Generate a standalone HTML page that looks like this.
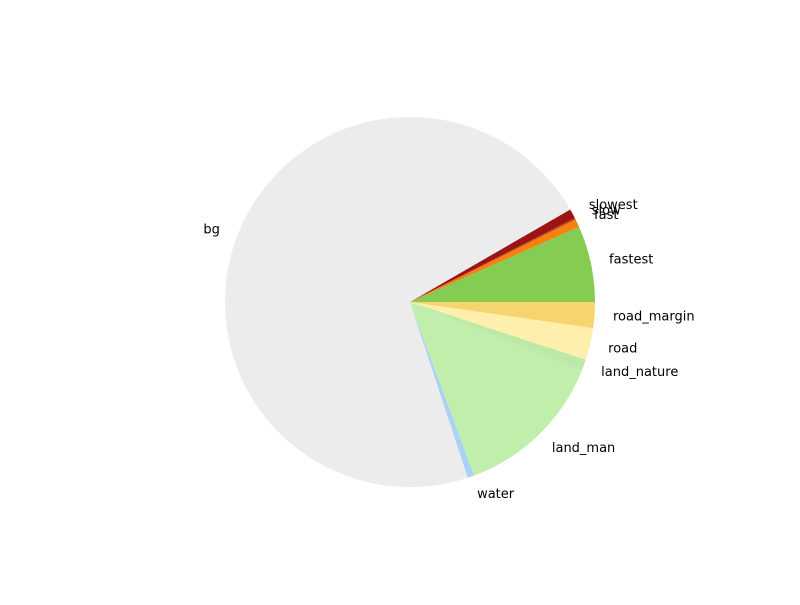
<!DOCTYPE html>
<html><head><meta charset="utf-8"><style>
html,body{margin:0;padding:0;background:#fff;}
svg text{font-family:"DejaVu Sans","Liberation Sans",sans-serif;font-size:13px;fill:#000;}
</style></head><body>
<svg id="chart" width="800" height="600" viewBox="0 0 800 600" xmlns="http://www.w3.org/2000/svg">
<rect width="800" height="600" fill="#fff"/>
<g id="slices"></g><g id="labels"></g>
</svg>
<script>
const categories = ["fastest","fast","slow","slowest","bg","water","land_man","land_nature","road","road_margin"];
const values = [24, 2.5, 0.5, 3, 258.2, 2.1, 47.8, 3.7, 10.1, 8.1];
const colors = ["#84cc52","#f5820f","#c8431a","#9b1515","#ececec","#a9d3f5","#c2eeac","#bce9a8","#ffefad","#f7d56e"];
const cx=410, cy=302, r=185;
const total = values.reduce((a,b)=>a+b,0);
const ns="http://www.w3.org/2000/svg";
const gS=document.getElementById('slices'), gL=document.getElementById('labels');
let a0=0;
values.forEach((v,i)=>{
  const a1=a0+v/total*2*Math.PI;
  const x0=cx+r*Math.cos(a0), y0=cy-r*Math.sin(a0);
  const x1=cx+r*Math.cos(a1), y1=cy-r*Math.sin(a1);
  const large=(a1-a0)>Math.PI?1:0;
  const p=document.createElementNS(ns,'path');
  p.setAttribute('d',`M${cx},${cy} L${x0},${y0} A${r},${r} 0 ${large} 0 ${x1},${y1} Z`);
  p.setAttribute('fill',colors[i]);
  
  
  gS.appendChild(p);
  const am=(a0+a1)/2;
  const lx=cx+1.1*r*Math.cos(am), ly=cy-1.1*r*Math.sin(am);
  const t=document.createElementNS(ns,'text');
  t.setAttribute('x',lx);
  t.setAttribute('y',ly+4);
  t.setAttribute('text-anchor',Math.cos(am)>=0?'start':'end');
  t.textContent=categories[i];
  
  
  gL.appendChild(t);
  a0=a1;
});
</script>
</body></html>
